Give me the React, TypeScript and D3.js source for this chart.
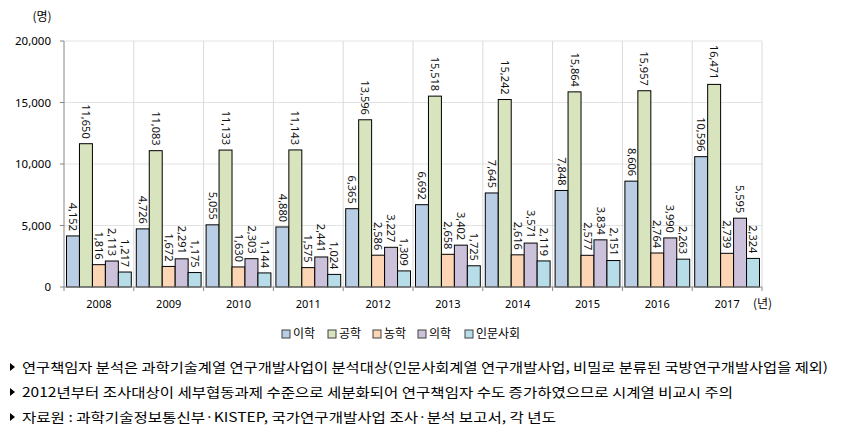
import * as d3 from "d3";

const years = ["2008", "2009", "2010", "2011", "2012", "2013", "2014", "2015", "2016", "2017"];
const seriesNames = ["이학", "공학", "농학", "의학", "인문사회"];
const science = [4152, 4726, 5055, 4880, 6365, 6692, 7645, 7848, 8606, 10596];
const engineering = [11650, 11083, 11133, 11143, 13596, 15518, 15242, 15864, 15957, 16471];
const agriculture = [1816, 1672, 1630, 1575, 2586, 2658, 2616, 2577, 2764, 2739];
const medicine = [2113, 2291, 2303, 2441, 3227, 3402, 3571, 3834, 3990, 5595];
const humanities = [1217, 1175, 1144, 1024, 1309, 1725, 2119, 2151, 2263, 2324];
const yTicks = [0, 5000, 10000, 15000, 20000];
const notes = [
  "연구책임자 분석은 과학기술계열 연구개발사업이 분석대상(인문사회계열 연구개발사업, 비밀로 분류된 국방연구개발사업을 제외)",
  "2012년부터 조사대상이 세부협동과제 수준으로 세분화되어 연구책임자 수도 증가하였으므로 시계열 비교시 주의",
  "자료원 : 과학기술정보통신부·KISTEP, 국가연구개발사업 조사·분석 보고서, 각 년도",
];

const seriesValues = [science, engineering, agriculture, medicine, humanities];
const colors = ["#b9cde5", "#d7e4bd", "#fcd5b5", "#ccc1da", "#b7dee8"];

const W = 844;
const H = 437;
const left = 64;
const right = 762;
const top = 41;
const bottom = 287;

const numFont = "'Noto Sans', 'DejaVu Sans', sans-serif";
const krFont = "'Noto Sans CJK KR', sans-serif";

export default function App() {
  const x0 = d3.scaleBand<string>().domain(years).range([left, right]).paddingInner(0).paddingOuter(0);
  const x1 = d3
    .scaleBand<string>()
    .domain(seriesNames)
    .range([2.5, x0.bandwidth() - 2.5])
    .padding(0);
  const y = d3.scaleLinear().domain([0, 20000]).range([bottom, top]);
  const fmt = d3.format(",");

  const noteLens = [806, 711, 534];

  return (
    <svg width={W} height={H} style={{ position: "absolute", left: 0, top: 0 }}>
      <rect width={W} height={H} fill="white" />
      {/* horizontal grid */}
      {yTicks.slice(1).map((t) => (
        <line key={t} x1={left} x2={right} y1={y(t)} y2={y(t)} stroke="#e3e3e3" />
      ))}
      {/* vertical grid */}
      {years.slice(1).concat(["end"]).map((yr, i) => {
        const xx = left + (i + 1) * x0.bandwidth();
        return <line key={yr} x1={xx} x2={xx} y1={top} y2={bottom} stroke="#d9d9d9" />;
      })}
      {/* bars */}
      {years.map((yr, i) => (
        <g key={yr} transform={`translate(${x0(yr)},0)`}>
          {seriesNames.map((s, j) => {
            const v = seriesValues[j][i];
            const bx = x1(s)!;
            const bw = x1.bandwidth();
            return (
              <g key={s}>
                <rect
                  x={bx}
                  y={y(v)}
                  width={bw}
                  height={bottom - y(v)}
                  fill={colors[j]}
                  stroke="#000"
                  strokeWidth={1}
                />
                <text
                  transform={`translate(${bx + bw / 2},${y(v) - 5}) rotate(90)`}
                  textAnchor="end"
                  dy="0.35em"
                  fontSize={11}
                  fontFamily={numFont}
                  fill="#111"
                >
                  {fmt(v)}
                </text>
              </g>
            );
          })}
        </g>
      ))}
      {/* y axis */}
      <line x1={left} x2={left} y1={top} y2={bottom} stroke="#868686" />
      {yTicks.map((t) => (
        <g key={t}>
          <line x1={left - 4} x2={left} y1={y(t)} y2={y(t)} stroke="#868686" />
          <text
            x={left - 13}
            y={y(t)}
            dy="0.35em"
            textAnchor="end"
            fontSize={11.5}
            fontFamily={numFont}
            fill="#000"
          >
            {fmt(t)}
          </text>
        </g>
      ))}
      <text x={42} y={17} dy="0.35em" textAnchor="middle" fontSize={12} fontFamily={krFont}>
        (명)
      </text>
      {/* x axis */}
      <line x1={left} x2={right} y1={bottom} y2={bottom} stroke="#868686" />
      {years.map((yr, i) => {
        const xx = left + i * x0.bandwidth();
        return <line key={yr} x1={xx} x2={xx} y1={bottom} y2={bottom + 4} stroke="#868686" />;
      })}
      <line x1={right} x2={right} y1={bottom} y2={bottom + 4} stroke="#868686" />
      {years.map((yr) => (
        <text
          key={yr}
          x={x0(yr)! + x0.bandwidth() / 2}
          y={304}
          dy="0.35em"
          textAnchor="middle"
          fontSize={11}
          fontFamily={numFont}
        >
          {yr}
        </text>
      ))}
      <text x={753} y={304} dy="0.35em" fontSize={12} fontFamily={krFont}>
        (년)
      </text>
      {/* legend */}
      {seriesNames.map((s, j) => {
        const lx = [282, 328, 373, 418, 465][j];
        return (
          <g key={s}>
            <rect x={lx} y={330} width={8} height={8} fill={colors[j]} stroke="#404040" />
            <text x={lx + 11} y={334} dy="0.35em" fontSize={12} fontFamily={krFont}>
              {s}
            </text>
          </g>
        );
      })}
      {/* notes */}
      {notes.map((n, i) => {
        const ny = 367 + i * 25;
        return (
          <g key={i}>
            <path d={`M10,${ny - 4} L15,${ny} L10,${ny + 4} Z`} fill="#000" />
            <text
              x={22}
              y={ny}
              dy="0.35em"
              fontSize={13}
              fontFamily={krFont}
              textLength={noteLens[i]}
              lengthAdjust="spacingAndGlyphs"
            >
              {n}
            </text>
          </g>
        );
      })}
    </svg>
  );
}
